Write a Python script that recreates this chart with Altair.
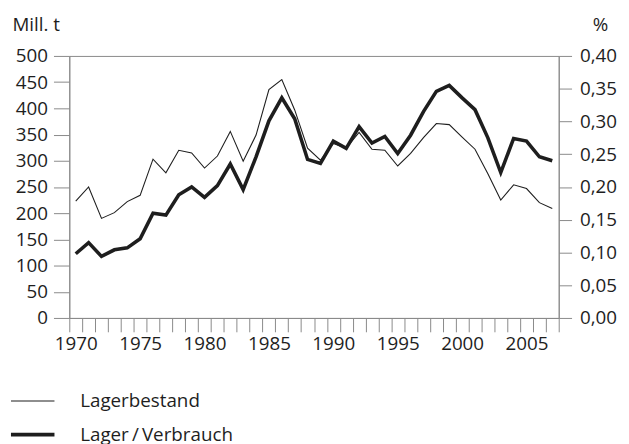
import altair as alt
import pandas as pd

years = list(range(1970, 2008))
lagerbestand = [223, 250, 190, 201, 222, 234, 303, 277, 320, 315,
                286, 309, 356, 299, 349, 436, 455, 397, 324, 301,
                333, 324, 354, 322, 320, 290, 314, 344, 371, 369,
                345, 322, 275, 225, 254, 247, 220, 209]
lager_verbrauch = [0.098, 0.115, 0.094, 0.104, 0.107, 0.121, 0.160, 0.157, 0.188, 0.200,
                   0.184, 0.202, 0.235, 0.196, 0.246, 0.301, 0.336, 0.304, 0.242, 0.236,
                   0.270, 0.259, 0.292, 0.267, 0.277, 0.251, 0.279, 0.315, 0.346, 0.355,
                   0.336, 0.318, 0.275, 0.222, 0.274, 0.270, 0.246, 0.240]
series_names = ["Lagerbestand", "Lager\u2009/\u2009Verbrauch"]
left_ticks = list(range(0, 501, 50))
right_ticks = [0.0, 0.05, 0.10, 0.15, 0.20, 0.25, 0.30, 0.35, 0.40]

df1 = pd.DataFrame({"year": years, "value": lagerbestand, "series": series_names[0]})
df2 = pd.DataFrame({"year": years, "value": lager_verbrauch, "series": series_names[1]})

FONT = "Open Sans"
FS = 19
GRAY = "#8a8a8a"
TXT = "#1e1e1e"

common_axis = dict(labelFont=FONT, titleFont=FONT, labelFontSize=FS, titleFontSize=FS,
                   labelColor=TXT, titleColor=TXT, grid=False,
                   domainColor=GRAY, tickColor=GRAY)

x_enc = alt.X(
    "year:O",
    scale=alt.Scale(type="band", paddingInner=0, paddingOuter=0),
    axis=alt.Axis(
        title=None, labelAngle=0, tickBand="extent", tickSize=14,
        labelExpr="datum.value % 5 == 0 ? datum.label : ''",
        labelPadding=3, **common_axis,
    ),
)

sw = alt.StrokeWidth(
    "series:N",
    scale=alt.Scale(domain=series_names, range=[1.1, 3.6]),
    legend=alt.Legend(
        title=None, orient="none", legendX=-61, legendY=326, direction="vertical",
        symbolType="stroke", symbolSize=1936, symbolStrokeColor=TXT,
        labelFontSize=FS, labelFont=FONT, labelColor=TXT, labelOffset=24,
        rowPadding=-15, symbolFillColor=TXT,
    ),
)

thin = alt.Chart(df1).mark_line(color=TXT, strokeJoin="miter").encode(
    x=x_enc,
    y=alt.Y(
        "value:Q",
        scale=alt.Scale(domain=[0, 500], nice=False, zero=True),
        axis=alt.Axis(
            values=left_ticks, tickSize=16, labelPadding=6,
            title="Mill. t", titleAngle=0, titleAlign="left", titleBaseline="middle",
            titleX=-58, titleY=-32, titleFontWeight="normal", **common_axis,
        ),
    ),
    strokeWidth=sw,
)

thick = alt.Chart(df2).mark_line(color=TXT, strokeJoin="miter").encode(
    x=x_enc,
    y=alt.Y(
        "value:Q",
        scale=alt.Scale(domain=[0, 0.4], nice=False, zero=True),
        axis=alt.Axis(
            orient="right", values=right_ticks, tickSize=13, labelPadding=8,
            labelExpr="replace(format(datum.value, '.2f'), '.', ',')",
            title="%", titleAngle=0, titleAlign="left", titleBaseline="middle",
            titleX=34, titleY=-32, titleFontWeight="normal", **common_axis,
        ),
    ),
    strokeWidth=sw,
)

chart = (
    alt.layer(thin, thick)
    .resolve_scale(y="independent")
    .properties(
        width=495, height=265,
        autosize=alt.AutoSizeParams(type="none"),
        padding={"left": 62, "top": 46, "right": 63, "bottom": 125},
        background="white",
    )
    .configure_view(stroke=GRAY, strokeWidth=1)
)

chart.save("out.html", embed_options={"renderer": "svg", "actions": False})
